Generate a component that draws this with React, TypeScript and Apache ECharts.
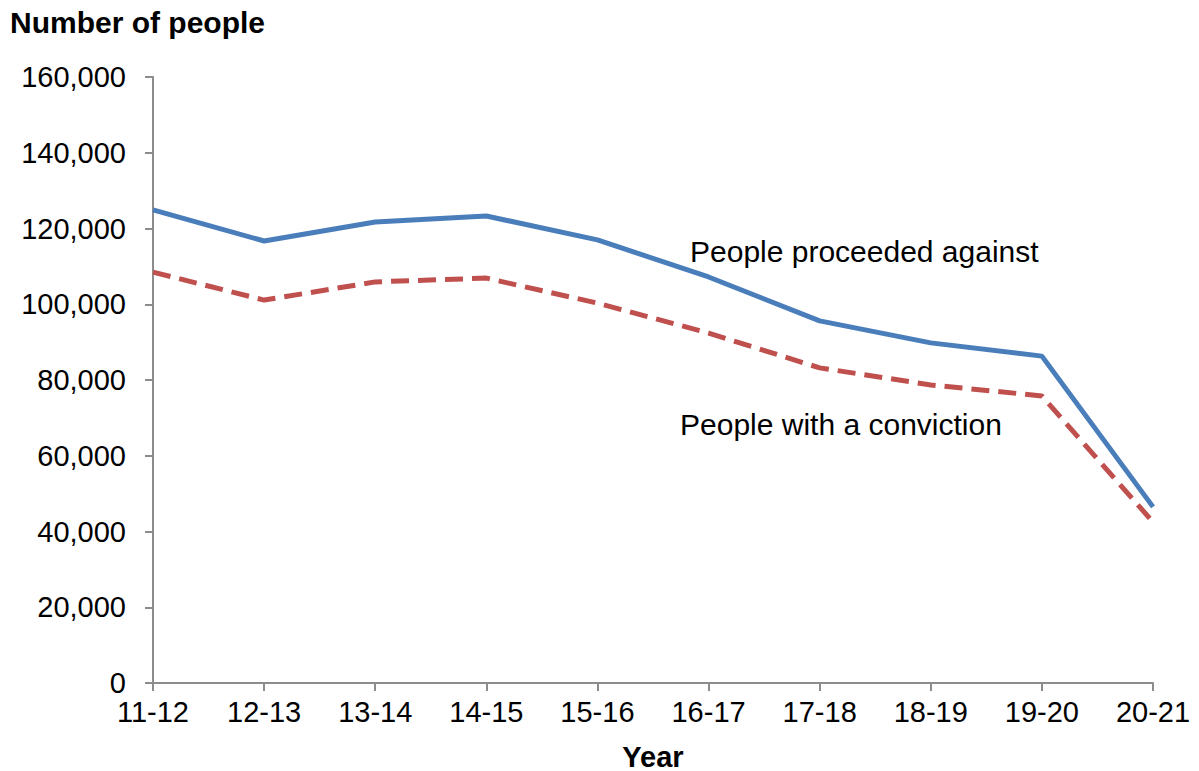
import React, { useEffect, useRef } from "react";
import * as echarts from "echarts";

const years = ["11-12", "12-13", "13-14", "14-15", "15-16", "16-17", "17-18", "18-19", "19-20", "20-21"];
const proceededAgainst = [124900, 116700, 121700, 123300, 117000, 107200, 95600, 89800, 86300, 46500];
const withConviction = [108500, 101100, 105900, 106900, 100300, 92400, 83200, 78700, 75800, 42500];
const yTicks = [0, 20000, 40000, 60000, 80000, 100000, 120000, 140000, 160000];

const FONT = "'Liberation Sans', Arial, sans-serif";
const AXIS_GREY = "#8c8c8c";

export default function App() {
  const ref = useRef<HTMLDivElement>(null);

  useEffect(() => {
    if (!ref.current) return;
    const chart = echarts.init(ref.current, undefined, { renderer: "svg" });
    chart.setOption({
      animation: false,
      backgroundColor: "#ffffff",
      grid: {
        left: 153,
        right: 46,
        top: 77,
        bottom: 88,
        containLabel: false,
        outerBoundsMode: "none",
      },
      xAxis: {
        type: "category",
        data: years,
        boundaryGap: false,
        name: "Year",
        nameLocation: "middle",
        nameGap: 61,
        nameTextStyle: {
          fontFamily: FONT,
          fontSize: 29,
          fontWeight: "bold",
          color: "#000",
          lineHeight: 25,
        },
        axisLine: { lineStyle: { color: AXIS_GREY, width: 2 } },
        axisTick: { show: true, alignWithLabel: true, length: 8, lineStyle: { color: AXIS_GREY, width: 2 } },
        axisLabel: { fontFamily: FONT, fontSize: 29, color: "#000", margin: 14 },
        splitLine: { show: false },
      },
      yAxis: {
        type: "value",
        min: yTicks[0],
        max: yTicks[yTicks.length - 1],
        interval: yTicks[1] - yTicks[0],
        axisLine: { show: true, lineStyle: { color: AXIS_GREY, width: 2 } },
        axisTick: { show: true, length: 8, lineStyle: { color: AXIS_GREY, width: 2 } },
        axisLabel: {
          fontFamily: FONT,
          fontSize: 29,
          color: "#000",
          margin: 27,
          formatter: (v: number) => v.toLocaleString("en-GB"),
        },
        splitLine: { show: false },
      },
      series: [
        {
          name: "People proceeded against",
          type: "line",
          data: proceededAgainst,
          symbol: "none",
          lineStyle: { color: "#4a7ebb", width: 5 },
        },
        {
          name: "People with a conviction",
          type: "line",
          data: withConviction,
          symbol: "none",
          lineStyle: { color: "#c0504d", width: 5, type: [18, 9] },
        },
      ],
      graphic: [
        {
          type: "text",
          left: 10,
          top: 7,
          style: { text: "Number of people", font: `bold 30px ${FONT}`, fill: "#000" },
        },
        {
          type: "text",
          left: 690,
          top: 236,
          style: { text: "People proceeded against", font: `30px ${FONT}`, fill: "#000" },
        },
        {
          type: "text",
          left: 680,
          top: 409,
          style: { text: "People with a conviction", font: `30px ${FONT}`, fill: "#000" },
        },
      ],
    });
    return () => chart.dispose();
  }, []);

  return (
    <div
      ref={ref}
      style={{ position: "fixed", left: 0, top: 0, width: 1199, height: 771 }}
    />
  );
}
